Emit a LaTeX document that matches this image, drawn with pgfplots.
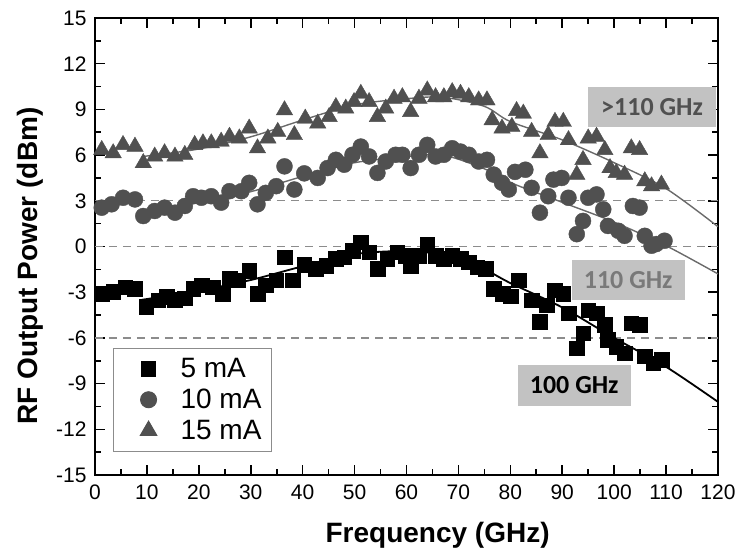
\documentclass[border=0pt]{standalone}
\usepackage{fontspec}
\setmainfont{Liberation Sans}
\newfontfamily\calib{Carlito}
\usepackage{pgfplots}
\pgfplotsset{compat=1.18}
\definecolor{mgray}{HTML}{505050}
\definecolor{lgray}{HTML}{6A6A6A}
\definecolor{boxgray}{HTML}{C2C2C2}
\definecolor{dgray}{HTML}{8C8C8C}
\begin{document}
\begin{tikzpicture}
\useasboundingbox (-95pt,-77pt) rectangle (642pt,475pt);
\begin{axis}[
  scale only axis, width=623pt, height=457pt,
  xmin=0, xmax=120, ymin=-15, ymax=15,
  xtick={0,10,...,120}, ytick={-15,-12,...,15},
  minor x tick num=1, minor y tick num=1,
  tick align=inside,
  major tick length=10pt, minor tick length=6pt,
  axis line style={line width=1.6pt},
  every tick/.style={line width=1.6pt, black},
  /pgf/number format/assume math mode=true,
  ticklabel style={font=\fontsize{21}{24}\selectfont},
  yticklabel style={xshift=-5pt},
  xticklabel style={yshift=-6pt},
  xlabel={\textbf{Frequency (GHz)}},
  ylabel={\textbf{RF Output Power (dBm)}},
  label style={font=\fontsize{28}{32}\selectfont},
  xlabel style={at={(axis description cs:0.55,-0.131)}, anchor=center},
  ylabel style={at={(axis description cs:-0.104,0.457)}, anchor=center},
  legend style={at={(0.029,0.278)}, anchor=north west, draw=dgray, line width=1pt,
    font=\fontsize{28}{32}\selectfont, inner xsep=8pt, inner ysep=8pt, row sep=6pt},
  legend cell align=left,
  legend image code/.code={\path[draw=none,fill=none] (-27pt,0pt) -- (30pt,0pt); \draw[#1] plot[only marks] coordinates {(0pt,0pt)};},
]
% dashed reference lines
\addplot[dgray, line width=1.4pt, dash pattern=on 8pt off 6pt, forget plot] coordinates {(0,3) (120,3)};
\addplot[dgray, line width=1.4pt, dash pattern=on 8pt off 6pt, forget plot] coordinates {(0,0) (120,0)};
\addplot[dgray, line width=1.4pt, dash pattern=on 8pt off 6pt, forget plot] coordinates {(0,-6) (120,-6)};

% 5 mA
\addplot[only marks, mark=square*, mark size=7.3pt, black, mark options={fill=black}] coordinates {
(1.3,-3.09) (3.5,-2.98) (5.8,-2.66) (7.7,-2.77) (9.9,-3.96) (12.2,-3.52) (13.8,-3.3) (15.4,-3.5)
(17.3,-3.4) (18.9,-2.77) (20.5,-2.55) (22.7,-2.66) (24.6,-3.09) (25.9,-2.1) (27.5,-2.2) (29.7,-1.57)
(31.3,-3.09) (32.9,-2.55) (34.9,-2.2) (36.5,-0.7) (38.1,-2.2) (40.3,-1.2) (42.5,-1.46) (44.5,-1.25)
(46.4,-0.81) (48.0,-0.7) (49.6,-0.27) (51.2,0.27) (52.8,-0.38) (54.4,-1.46) (56.3,-0.81) (58.2,-0.38)
(59.8,-0.6) (60.8,-1.25) (62.4,-0.6) (64.0,0.16) (65.6,-0.6) (67.2,-0.81) (68.8,-0.6) (70.4,-0.81)
(72.0,-1.03) (73.6,-1.35) (75.2,-1.46) (76.8,-2.77) (78.5,-3.1) (80.1,-3.25) (81.6,-2.2) (84.1,-3.52)
(85.7,-4.93) (87.0,-3.85) (88.6,-2.88) (90.2,-3.09) (91.2,-4.39) (92.8,-6.67) (94.0,-5.69) (95.0,-4.18)
(96.6,-4.39) (98.2,-5.15) (98.8,-6.13) (100.4,-6.56) (102.0,-7.0) (103.3,-5.04) (104.9,-5.15) (105.9,-7.2)
(107.5,-7.65) (109.1,-7.43)
};
\addlegendentry{5 mA}
% 10 mA
\addplot[only marks, mark=*, mark size=8pt, mgray, mark options={fill=mgray}] coordinates {
(1.3,2.55) (3.2,2.77) (5.4,3.2) (7.7,3.09) (9.3,2.0) (11.5,2.33) (13.4,2.55) (15.4,2.22)
(17.3,2.66) (18.9,3.3) (20.5,3.2) (22.4,3.3) (24.3,2.88) (25.9,3.63) (28.2,3.63) (29.7,4.18)
(31.3,2.77) (32.9,3.52) (34.9,3.96) (36.5,5.26) (38.4,3.74) (40.3,4.8) (42.9,4.5) (44.8,5.15)
(46.4,5.69) (48.0,5.37) (49.6,6.02) (51.2,6.56) (52.8,5.91) (54.4,4.83) (56.0,5.58) (57.9,6.02)
(59.2,6.02) (60.8,5.15) (62.4,6.02) (64.0,6.67) (65.6,5.91) (67.2,6.02) (68.8,6.45) (70.4,6.23)
(72.0,6.02) (73.9,5.58) (75.5,5.69) (76.8,4.72) (78.4,4.18) (79.7,3.74) (80.9,4.9) (82.9,5.04)
(84.1,3.85) (85.7,2.22) (87.3,3.3) (88.3,4.39) (89.9,4.5) (91.2,3.2) (92.8,0.81) (94.0,1.68)
(95.0,3.2) (96.6,3.42) (97.9,2.44) (98.8,1.35) (100.8,1.03) (102.0,0.7) (103.6,2.66) (104.9,2.55)
(105.9,0.7) (107.2,0.05) (108.1,0.16) (109.7,0.38)
};
\addlegendentry{10 mA}
% 15 mA
\addplot[only marks, mark=triangle*, mark size=9.5pt, mgray, mark options={fill=mgray}] coordinates {
(1.3,6.34) (3.5,6.13) (5.4,6.67) (7.7,6.56) (9.3,5.48) (11.5,5.91) (13.4,6.13) (15.4,5.91)
(17.3,6.02) (19.2,6.67) (20.8,6.78) (22.4,6.78) (24.3,6.89) (25.9,7.21) (27.8,7.1) (29.7,7.75)
(31.3,6.45) (33.3,7.1) (35.2,7.53) (36.5,8.95) (38.4,7.32) (40.5,8.4) (42.9,8.08) (45.1,8.51)
(46.4,9.16) (48.3,9.06) (49.9,9.49) (51.2,10.03) (52.8,9.49) (54.4,8.51) (56.0,9.06) (57.6,9.71)
(59.2,9.81) (60.8,8.84) (62.4,9.71) (64.0,10.25) (65.6,9.81) (67.2,9.81) (68.8,10.14) (70.4,10.03)
(72.0,9.81) (73.9,9.6) (75.5,9.6) (76.5,8.3) (78.4,7.75) (80.3,7.86) (81.2,8.9) (82.5,8.73)
(84.1,7.53) (85.7,6.13) (87.3,7.32) (88.6,8.19) (90.2,8.19) (91.2,6.99) (92.8,4.72) (94.0,5.69)
(95.0,7.1) (96.6,7.21) (98.2,6.34) (99.2,5.15) (100.4,4.83) (102.0,4.72) (103.3,6.45) (104.9,6.34)
(105.9,4.29) (107.2,3.96) (109.1,4.07)
};
\addlegendentry{15 mA}

% fit lines
\addplot[black, line width=1.8pt, smooth, forget plot] coordinates {
(9,-3.5) (20,-2.9) (30,-2.2) (40,-1.3) (50,-0.5) (60,-0.3) (68,-0.6) (75,-1.5) (80,-2.4) (90,-4.0) (100,-6.0) (110,-7.9) (120,-10.2)};
\addplot[lgray, line width=1.4pt, smooth, forget plot] coordinates {
(9,2.3) (20,2.9) (30,3.6) (40,4.6) (50,5.5) (60,5.9) (67,6.0) (75,5.1) (80,4.2) (90,2.9) (100,1.6) (110,0.05) (120,-1.8)};
\addplot[lgray, line width=1.4pt, smooth, forget plot] coordinates {
(9,5.9) (20,6.4) (30,7.2) (40,8.3) (50,9.3) (60,9.7) (67,9.8) (75,9.2) (80,8.2) (90,7.0) (100,5.5) (110,3.8) (120,1.3)};

% labels
\node[fill=boxgray, text=mgray, font=\calib\bfseries\fontsize{26}{28}\selectfont, minimum width=128pt, minimum height=40pt, inner sep=0pt] at (axis cs:107.3,9.15) {>110 GHz};
\node[fill=boxgray, text=lgray!90, font=\calib\bfseries\fontsize{26}{28}\selectfont, minimum width=113pt, minimum height=40pt, inner sep=0pt] at (axis cs:102.7,-2.2) {110 GHz};
\node[fill=boxgray, text=black, font=\calib\bfseries\fontsize{26}{28}\selectfont, minimum width=113pt, minimum height=41pt, inner sep=0pt] at (axis cs:92.3,-9.1) {100 GHz};
\end{axis}
\end{tikzpicture}
\end{document}
